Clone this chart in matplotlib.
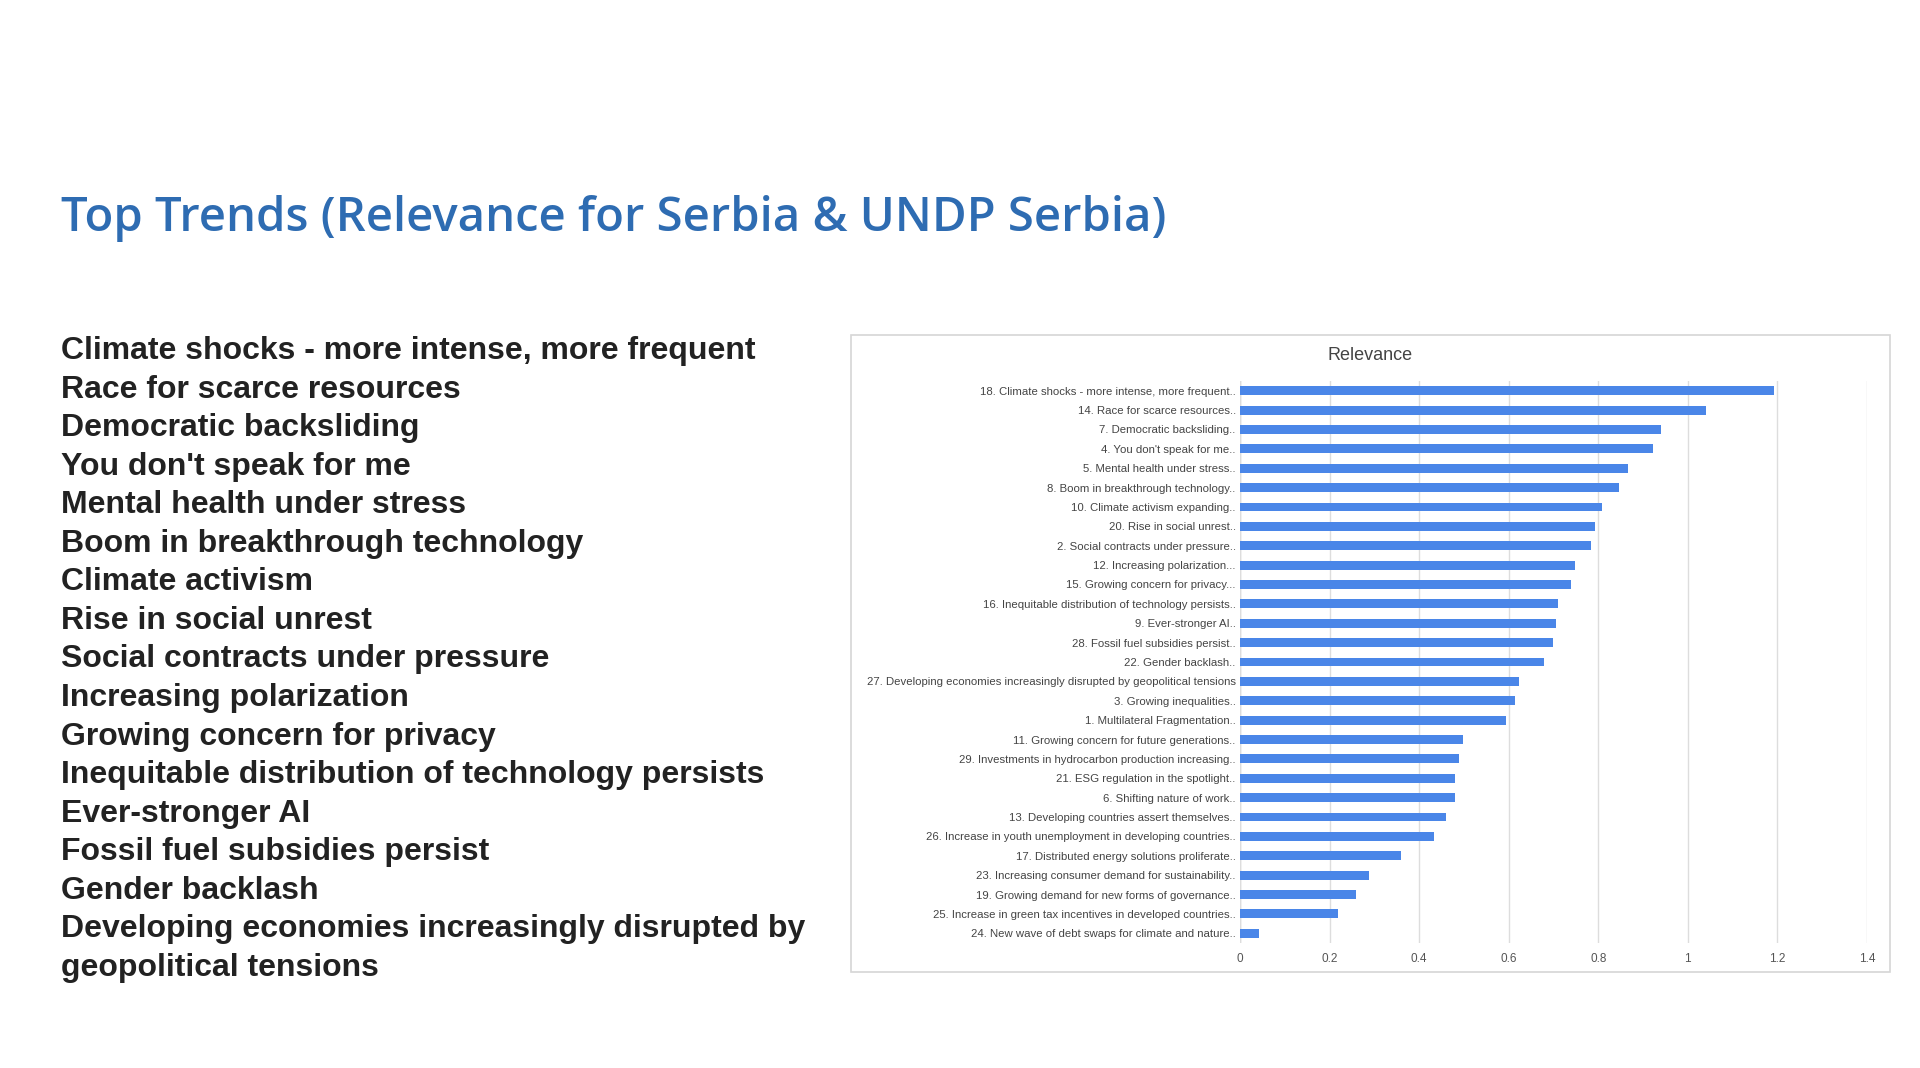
import matplotlib
matplotlib.use("Agg")
import matplotlib.pyplot as plt
from matplotlib.patches import Rectangle

# ---- data ----
trend_labels = [
    "18. Climate shocks - more intense, more frequent..",
    "14. Race for scarce resources..",
    "7. Democratic backsliding..",
    "4. You don't speak for me..",
    "5. Mental health under stress..",
    "8. Boom in breakthrough technology..",
    "10. Climate activism expanding..",
    "20. Rise in social unrest..",
    "2. Social contracts under pressure..",
    "12. Increasing polarization...",
    "15. Growing concern for privacy...",
    "16. Inequitable distribution of technology persists..",
    "9. Ever-stronger AI..",
    "28. Fossil fuel subsidies persist..",
    "22. Gender backlash..",
    "27. Developing economies increasingly disrupted by geopolitical tensions",
    "3. Growing inequalities..",
    "1. Multilateral Fragmentation..",
    "11. Growing concern for future generations..",
    "29. Investments in hydrocarbon production increasing..",
    "21. ESG regulation in the spotlight..",
    "6. Shifting nature of work..",
    "13. Developing countries assert themselves..",
    "26. Increase in youth unemployment in developing countries..",
    "17. Distributed energy solutions proliferate..",
    "23. Increasing consumer demand for sustainability..",
    "19. Growing demand for new forms of governance..",
    "25. Increase in green tax incentives in developed countries..",
    "24. New wave of debt swaps for climate and nature..",
]
relevance = [1.192, 1.040, 0.941, 0.922, 0.866, 0.846, 0.808, 0.793, 0.784,
             0.749, 0.738, 0.711, 0.706, 0.699, 0.679, 0.623, 0.615, 0.595,
             0.499, 0.489, 0.481, 0.479, 0.460, 0.434, 0.359, 0.288, 0.259,
             0.219, 0.043]
x_ticks = [0, 0.2, 0.4, 0.6, 0.8, 1.0, 1.2, 1.4]
x_tick_labels = ["0", "0.2", "0.4", "0.6", "0.8", "1", "1.2", "1.4"]

top_trends = [
    "Climate shocks - more intense, more frequent",
    "Race for scarce resources",
    "Democratic backsliding",
    "You don't speak for me",
    "Mental health under stress",
    "Boom in breakthrough technology",
    "Climate activism",
    "Rise in social unrest",
    "Social contracts under pressure",
    "Increasing polarization",
    "Growing concern for privacy",
    "Inequitable distribution of technology persists",
    "Ever-stronger AI",
    "Fossil fuel subsidies persist",
    "Gender backlash",
    "Developing economies increasingly disrupted by",
    "geopolitical tensions",
]
slide_title = "Top Trends (Relevance for Serbia & UNDP Serbia)"
chart_title = "Relevance"

# ---- figure ----
W, H = 1920, 1068
fig = plt.figure(figsize=(W / 100, H / 100), dpi=100)
fig.patch.set_facecolor("white")

# slide title
fig.text(61 / W, 1 - 219 / H, slide_title, fontsize=34, color="#2E6CB2",
         family="Open Sans", fontweight="semibold", va="center", ha="left")

# left list
for i, t in enumerate(top_trends):
    y = 351 + i * 38.56
    fig.text(61 / W, 1 - y / H, t, fontsize=23, color="#222222",
             family="Liberation Sans", fontweight="bold", va="center", ha="left")

# chart border
fig.patches.append(Rectangle((851 / W, 1 - 972 / H), (1890 - 851) / W, (972 - 335) / H,
                             transform=fig.transFigure, facecolor="white",
                             edgecolor="#d6d6d6", linewidth=1.2, zorder=-1))
fig.text(1370 / W, 1 - 355 / H, chart_title, fontsize=13, color="#444444",
         family="Liberation Sans", ha="center", va="center")

ax = fig.add_axes([1240 / W, 1 - 943 / H, (1867 - 1240) / W, (943 - 381) / H])
ax.set_zorder(3)
ax.set_facecolor("none")
n = len(relevance)
ypos = list(range(n))
ax.barh(ypos, relevance, height=0.46, color="#4A86E8", zorder=3)
ax.set_ylim(n - 0.5, -0.5)
ax.set_xlim(0, 1.4)
ax.set_yticks(ypos)
ax.set_yticklabels(trend_labels, fontsize=8.2, color="#444444",
                   family=["Liberation Sans Narrow", "Liberation Sans"])
ax.set_xticks(x_ticks)
ax.set_xticklabels(x_tick_labels, fontsize=8.5, color="#555555", family="Liberation Sans")
ax.tick_params(axis="both", length=0)
ax.tick_params(axis="y", pad=3)
ax.tick_params(axis="x", pad=7)
for s in ax.spines.values():
    s.set_visible(False)
ax.grid(axis="x", color="#dddddd", linewidth=1, zorder=0)
ax.axvline(0, color="#cccccc", linewidth=1, zorder=1)

fig.savefig("out.png", dpi=100, facecolor="white")
